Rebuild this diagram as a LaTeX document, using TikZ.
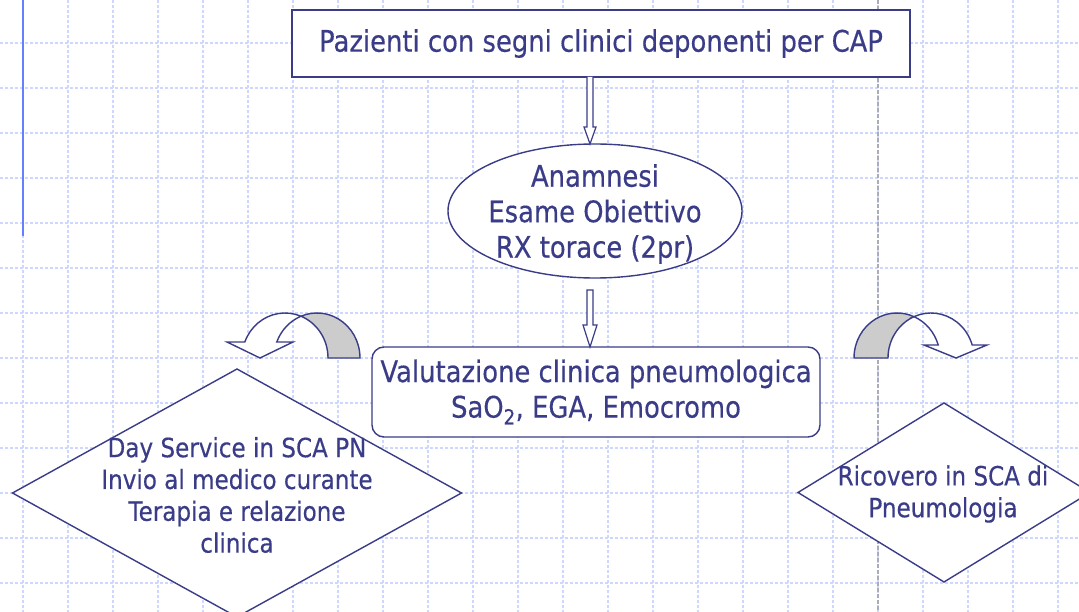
\documentclass[tikz,border=0pt]{standalone}
\usepackage{fontspec}
\setmainfont[FakeStretch=0.87,FakeBold=0.4]{DejaVu Sans}
\usetikzlibrary{shapes.geometric,calc}
\definecolor{ink}{RGB}{58,60,136}
\definecolor{gridblue}{RGB}{205,215,255}
\definecolor{gridgray}{RGB}{172,172,182}
\definecolor{railblue}{RGB}{100,128,255}
\definecolor{shade}{RGB}{204,204,204}
\begin{document}
\begin{tikzpicture}[x=1pt,y=-1pt,
  every node/.style={inner sep=0pt, outer sep=0pt},
  bigtext/.style={text=ink, align=center, font=\fontsize{29.7}{35.5}\selectfont},
  smalltext/.style={text=ink, align=center, font=\fontsize{26.5}{31.8}\selectfont},
  shapeline/.style={draw=ink, line width=1.4pt, fill=white},
  gridline/.style={draw=gridblue, line width=1.2pt, dash pattern=on 3pt off 2pt},
  blockarrow/.style={draw=ink, line width=1.2pt, fill=white, line join=miter},
  curvewhite/.style={draw=ink, line width=1.4pt, fill=white, line join=miter},
  curvegray/.style={draw=ink, line width=1.4pt, fill=shade, line join=miter},
]
\useasboundingbox (0,0) rectangle (1079,612);
\clip (0,0) rectangle (1079,612);
\fill[white] (0,0) rectangle (1079,612);
% grid
\foreach \k in {0,...,23} { \draw[gridline] ({23+45*\k},0) -- ({23+45*\k},612); }
\foreach \k in {0,...,13} { \draw[gridline] (0,{-2+45*\k}) -- (1079,{-2+45*\k}); }
\draw[draw=gridgray, line width=1.1pt, dash pattern=on 4pt off 2pt] (878,0) -- (878,612);
\draw[railblue, line width=1.8pt] (23,0) -- (23,236);

% nodes
\node[shapeline, rectangle, minimum width=618pt, minimum height=67pt, bigtext] (cap) at (601,43.5) {Pazienti con segni clinici deponenti per CAP};

\node[shapeline, ellipse, minimum width=294pt, minimum height=134pt] (exam) at (595,211) {};
\node[bigtext] (examtext) at (595,214) {Anamnesi\\Esame Obiettivo\\RX torace (2pr)};

\node[shapeline, rectangle, rounded corners=12pt, minimum width=448pt, minimum height=90pt, bigtext] (eval) at (596,392) {Valutazione clinica pneumologica\\SaO\textsubscript{2}, EGA, Emocromo};

\node[shapeline, diamond, minimum width=449pt, minimum height=248pt] (day) at (237,493) {};
\node[smalltext] (daytext) at (237,495) {Day Service in SCA PN\\Invio al medico curante\\Terapia e relazione\\clinica};

\node[shapeline, diamond, minimum width=292pt, minimum height=179pt] (ward) at (944,492.5) {};
\node[smalltext] (wardtext) at (943,494) {Ricovero in SCA di\\Pneumologia};

% block arrows
\draw[blockarrow] let \p1=(cap.south), \p2=(exam.north) in
  (587pt,\y1) -- (587pt,\y2+17pt) -- (584pt,\y2+17pt) -- (590pt,\y2) -- (596pt,\y2+17pt) -- (593pt,\y2+17pt) -- (593pt,\y1);
\draw[blockarrow] let \p1=(exam.south), \p2=(eval.north) in
  (587pt,\y1-12pt) -- (587pt,\y2+22pt) -- (583pt,\y2+22pt) -- (590pt,\y2) -- (597pt,\y2+22pt) -- (593pt,\y2+22pt) -- (593pt,\y1-12pt) -- cycle;

% left curved arrow
\filldraw[curvegray] (360,358) arc[start angle=0, end angle=111.84, x radius=43pt, y radius=45pt]
  arc[start angle=68.16, end angle=0, x radius=43pt, y radius=45pt] -- cycle;
\filldraw[curvewhite] (244.8,342) arc[start angle=159.17, end angle=68.16, x radius=43pt, y radius=45pt]
  arc[start angle=111.84, end angle=159.17, x radius=43pt, y radius=45pt]
  -- (293,342) -- (260,358) -- (227,342) -- cycle;

% right curved arrow
\filldraw[curvegray] (854,358) arc[start angle=180, end angle=66.71, x radius=43pt, y radius=45pt]
  arc[start angle=113.29, end angle=180, x radius=43pt, y radius=45pt] -- cycle;
\filldraw[curvewhite] (914,316.67) arc[start angle=113.29, end angle=16.79, x radius=43pt, y radius=45pt]
  -- (987,345) -- (956,358) -- (924,345) -- (938.2,345)
  arc[start angle=16.79, end angle=66.71, x radius=43pt, y radius=45pt] -- cycle;
\end{tikzpicture}
\end{document}
